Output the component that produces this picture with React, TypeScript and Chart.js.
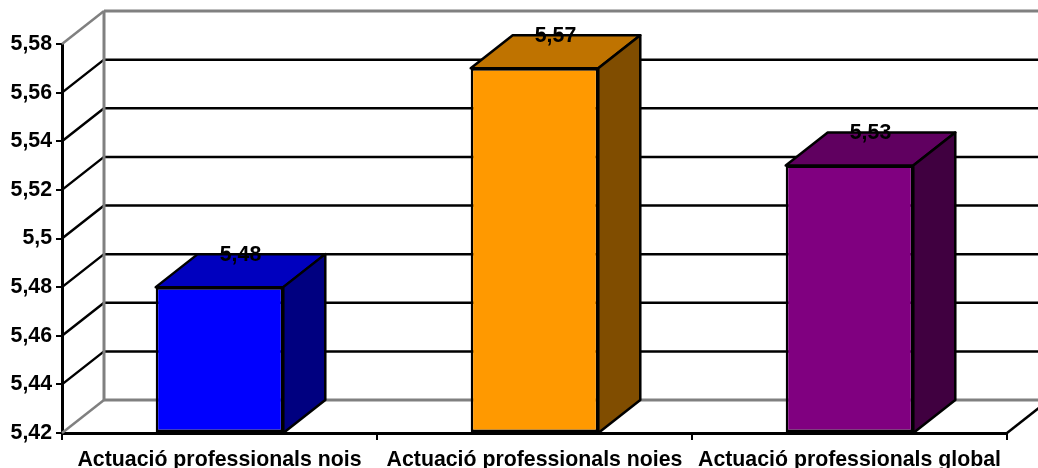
import React, { useEffect, useRef } from "react";
import { Chart, registerables } from "chart.js";

Chart.register(...registerables);

const categories = [
  "Actuació professionals nois",
  "Actuació professionals noies",
  "Actuació professionals global",
];
const scores = [5.48, 5.57, 5.53];
const frontColors = ["#0000FF", "#FF9900", "#800080"];
const topColors = ["#0000BF", "#BF7300", "#600060"];
const sideColors = ["#000080", "#804D00", "#400040"];
const axisMin = 5.42;
const axisMax = 5.58;
const axisStep = 0.02;

const DEPTH_X = 42;
const DEPTH_Y = 33;
const FONT = '"Liberation Sans", Arial, sans-serif';

const commaNumber = (v: number) =>
  String(Math.round(v * 100) / 100).replace(".", ",");

// Back wall, floor and the oblique grid lines of the pseudo-3D box.
const wallPlugin = {
  id: "wall",
  beforeDatasetsDraw(chart: any) {
    const { ctx, chartArea, scales, width } = chart;
    const { left, right, top, bottom } = chartArea;
    const line = (pts: number[][], color: string, w = 2.5) => {
      ctx.beginPath();
      pts.forEach(([x, y], i) => (i ? ctx.lineTo(x, y) : ctx.moveTo(x, y)));
      ctx.strokeStyle = color;
      ctx.lineWidth = w;
      ctx.stroke();
    };
    ctx.save();
    scales.y.ticks.forEach((t: any) => {
      const y = scales.y.getPixelForValue(t.value);
      if (t.value <= axisMin + 1e-6 || t.value >= axisMax - 1e-6) return;
      line([[left, y], [left + DEPTH_X, y - DEPTH_Y], [width, y - DEPTH_Y]], "#000");
    });
    const gray = "#808080";
    line([[left + DEPTH_X, top - DEPTH_Y], [width, top - DEPTH_Y]], gray, 3);
    line([[left + DEPTH_X, bottom - DEPTH_Y], [width, bottom - DEPTH_Y]], gray, 3);
    line([[left + DEPTH_X, top - DEPTH_Y], [left + DEPTH_X, bottom - DEPTH_Y]], gray, 3);
    line([[left, top], [left + DEPTH_X, top - DEPTH_Y]], gray, 2.5);
    line([[left, bottom], [left + DEPTH_X, bottom - DEPTH_Y]], gray, 2.5);
    line([[right, bottom], [right + DEPTH_X, bottom - DEPTH_Y]], "#000", 2.5);
    ctx.restore();
  },
};

// Top and side faces of each bar, plus the value written over the top face.
const extrudePlugin = {
  id: "extrude",
  afterDatasetsDraw(chart: any) {
    const { ctx, scales } = chart;
    const bars = chart.getDatasetMeta(0).data;
    const b = scales.y.getPixelForValue(axisMin);
    ctx.save();
    bars.forEach((bar: any, i: number) => {
      const l = bar.x - bar.width / 2;
      const r = bar.x + bar.width / 2;
      const t = bar.y;
      const face = (pts: number[][], fill: string) => {
        ctx.beginPath();
        pts.forEach(([x, y], k) => (k ? ctx.lineTo(x, y) : ctx.moveTo(x, y)));
        ctx.closePath();
        ctx.fillStyle = fill;
        ctx.fill();
        ctx.strokeStyle = "#000";
        ctx.lineWidth = 2.5;
        ctx.lineJoin = "round";
        ctx.stroke();
      };
      face(
        [[l, t], [l + DEPTH_X, t - DEPTH_Y], [r + DEPTH_X, t - DEPTH_Y], [r, t]],
        topColors[i]
      );
      face(
        [[r, t], [r + DEPTH_X, t - DEPTH_Y], [r + DEPTH_X, b - DEPTH_Y], [r, b]],
        sideColors[i]
      );
    });
    ctx.font = `bold 21.3px ${FONT}`;
    ctx.fillStyle = "#000";
    ctx.textAlign = "center";
    ctx.textBaseline = "middle";
    bars.forEach((bar: any, i: number) => {
      ctx.fillText(commaNumber(scores[i]), bar.x + DEPTH_X / 2, bar.y - DEPTH_Y + 1);
    });
    ctx.restore();
  },
};

export default function App() {
  const ref = useRef<HTMLCanvasElement>(null);

  useEffect(() => {
    const chart = new Chart(ref.current!, {
      type: "bar",
      data: {
        labels: categories,
        datasets: [
          {
            data: scores,
            base: axisMin,
            backgroundColor: frontColors,
            borderColor: "#000",
            borderWidth: 2.5,
            borderSkipped: false,
            barPercentage: 1,
            categoryPercentage: 0.405,
          },
        ],
      },
      plugins: [wallPlugin, extrudePlugin],
      options: {
        responsive: false,
        animation: false,
        layout: { padding: { top: 44, right: 31, left: 0, bottom: 0 } },
        plugins: {
          legend: { display: false },
          title: { display: false },
          tooltip: { enabled: false },
        },
        scales: {
          x: {
            afterFit: (s: any) => {
              s.height = 35;
            },
            border: { color: "#000", width: 3 },
            grid: {
              offset: true,
              drawOnChartArea: false,
              color: "#000",
              lineWidth: 2,
              tickLength: 7,
            },
            ticks: {
              color: "#000",
              padding: 7,
              maxRotation: 0,
              autoSkip: false,
              font: { family: FONT, size: 21.3, weight: "bold" },
            },
          },
          y: {
            min: axisMin,
            max: axisMax,
            afterFit: (s: any) => {
              s.width = 62;
            },
            border: { color: "#000", width: 3 },
            grid: {
              drawOnChartArea: false,
              color: "#000",
              lineWidth: 2,
              tickLength: 6,
            },
            ticks: {
              stepSize: axisStep,
              color: "#000",
              padding: 4,
              callback: (v: any) => commaNumber(Number(v)),
              font: { family: FONT, size: 21.3, weight: "bold" },
            },
          },
        },
      },
    } as any);
    return () => chart.destroy();
  }, []);

  return (
    <div style={{ position: "fixed", left: 0, top: 0, width: 1038, height: 468, background: "#fff" }}>
      <canvas ref={ref} width={1038} height={468} style={{ display: "block" }} />
    </div>
  );
}
